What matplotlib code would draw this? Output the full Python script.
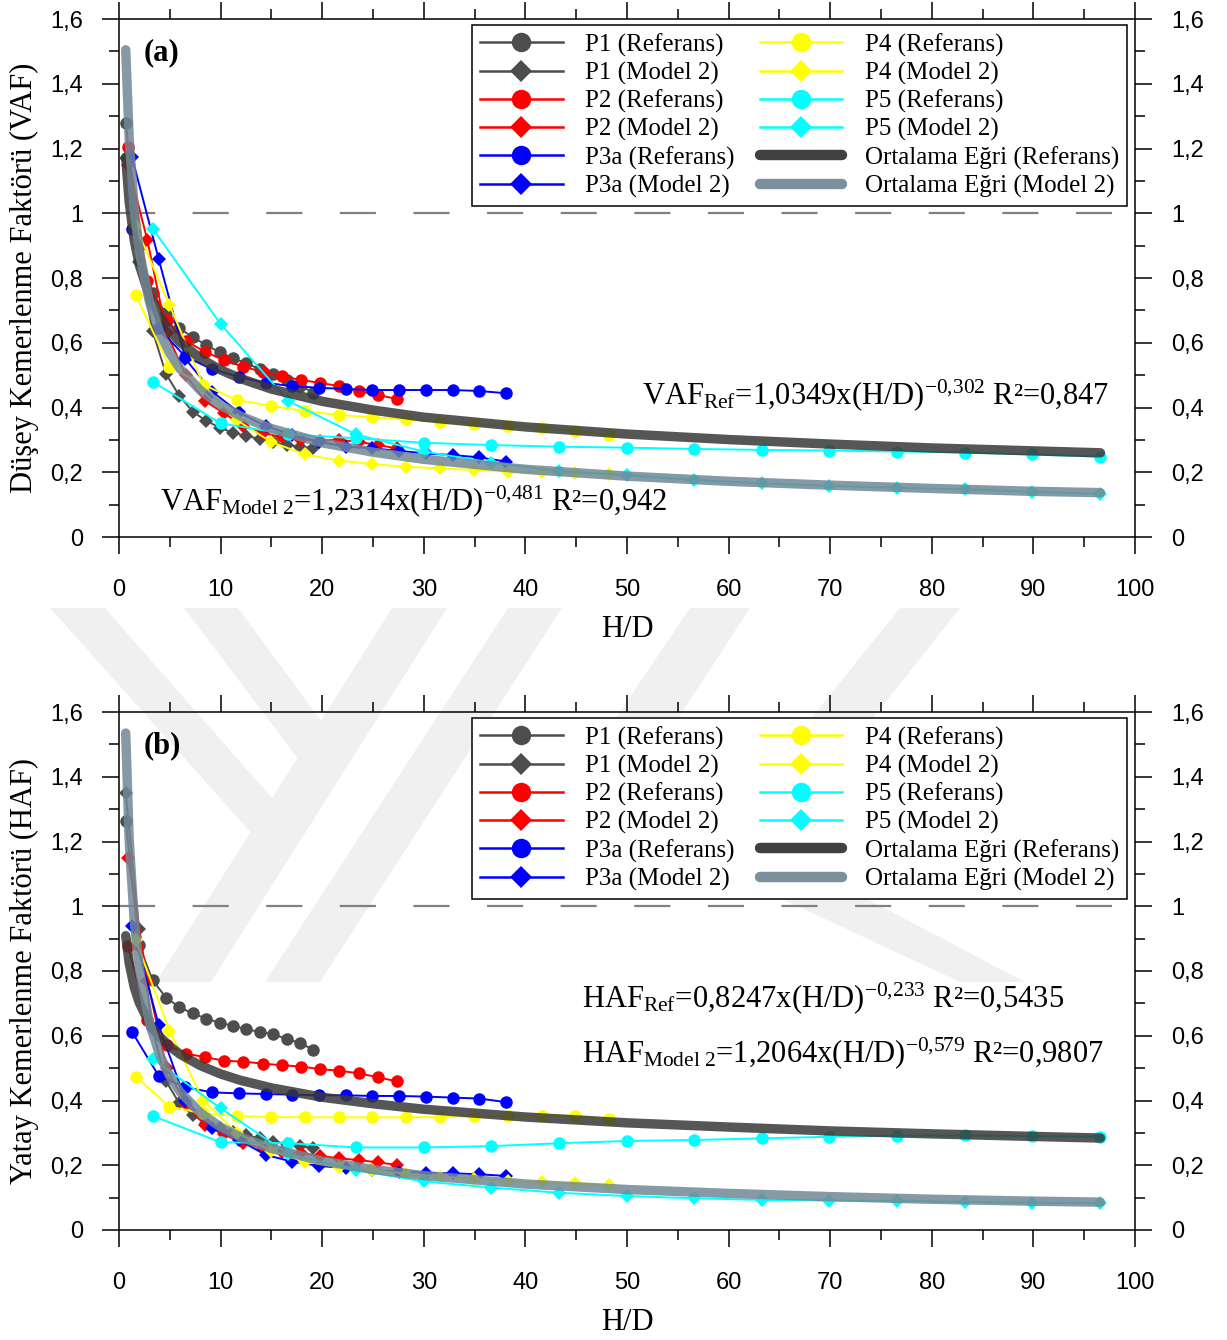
import matplotlib
matplotlib.use("Agg")
import matplotlib.pyplot as plt
from matplotlib.lines import Line2D
from matplotlib.patches import Polygon

# ---------------- data ----------------
P1_X = [0.66, 1.98, 3.3, 4.62, 5.94, 7.26, 8.58, 9.9, 11.22, 12.54, 13.86, 15.18, 16.5, 17.82, 19.14]
P2_X = [0.9, 2.79, 4.68, 6.57, 8.46, 10.35, 12.24, 14.13, 16.02, 17.91, 19.8, 21.69, 23.58, 25.47, 27.36]
P3A_X = [1.28, 3.91, 6.54, 9.17, 11.8, 14.43, 17.06, 19.69, 22.32, 24.95, 27.58, 30.21, 32.84, 35.47, 38.1]
P4_X = [1.64, 4.97, 8.3, 11.63, 14.96, 18.29, 21.62, 24.95, 28.28, 31.61, 34.94, 38.27, 41.6, 44.93, 48.26]
P5_X = [3.35, 10.0, 16.67, 23.3, 30.0, 36.65, 43.3, 49.96, 56.6, 63.3, 69.9, 76.6, 83.3, 89.9, 96.6]

# (a) VAF
VAF_P1_REF = [1.28, 0.90, 0.754, 0.691, 0.645, 0.617, 0.593, 0.571, 0.552, 0.537, 0.518, 0.503, 0.485, 0.467, 0.446]
VAF_P1_M2 = [1.17, 0.85, 0.637, 0.504, 0.436, 0.387, 0.359, 0.338, 0.322, 0.312, 0.303, 0.292, 0.284, 0.279, 0.274]
VAF_P2_REF = [1.206, 0.79, 0.67, 0.606, 0.572, 0.546, 0.526, 0.51, 0.497, 0.485, 0.476, 0.466, 0.451, 0.439, 0.426]
VAF_P2_M2 = [1.15, 0.917, 0.63, 0.50, 0.42, 0.382, 0.343, 0.322, 0.308, 0.300, 0.298, 0.300, 0.294, 0.284, 0.274]
VAF_P3A_REF = [0.951, 0.645, 0.557, 0.518, 0.495, 0.476, 0.466, 0.461, 0.457, 0.454, 0.454, 0.454, 0.454, 0.451, 0.444]
VAF_P3A_M2 = [1.173, 0.858, 0.55, 0.449, 0.385, 0.343, 0.315, 0.294, 0.279, 0.274, 0.266, 0.258, 0.253, 0.246, 0.233]
VAF_P4_REF = [0.748, 0.526, 0.47, 0.423, 0.405, 0.389, 0.377, 0.370, 0.363, 0.356, 0.349, 0.344, 0.338, 0.327, 0.315]
VAF_P4_M2 = [0.96, 0.717, 0.47, 0.36, 0.294, 0.255, 0.236, 0.225, 0.217, 0.212, 0.207, 0.202, 0.200, 0.197, 0.195]
VAF_P5_REF = [0.479, 0.351, 0.317, 0.305, 0.291, 0.284, 0.279, 0.276, 0.272, 0.269, 0.267, 0.264, 0.261, 0.255, 0.248]
VAF_P5_M2 = [0.951, 0.658, 0.42, 0.317, 0.264, 0.23, 0.204, 0.191, 0.176, 0.166, 0.158, 0.152, 0.147, 0.140, 0.133]

# (b) HAF
HAF_P1_REF = [1.264, 0.88, 0.772, 0.718, 0.688, 0.669, 0.653, 0.64, 0.631, 0.620, 0.612, 0.604, 0.591, 0.577, 0.557]
HAF_P1_M2 = [1.349, 0.929, 0.62, 0.46, 0.391, 0.355, 0.33, 0.315, 0.303, 0.293, 0.283, 0.273, 0.266, 0.260, 0.252]
HAF_P2_REF = [0.877, 0.65, 0.572, 0.545, 0.534, 0.523, 0.52, 0.514, 0.509, 0.505, 0.497, 0.492, 0.484, 0.472, 0.459]
HAF_P2_M2 = [1.15, 0.77, 0.50, 0.39, 0.324, 0.295, 0.268, 0.252, 0.242, 0.237, 0.229, 0.221, 0.216, 0.209, 0.201]
HAF_P3A_REF = [0.612, 0.476, 0.441, 0.425, 0.422, 0.42, 0.418, 0.416, 0.416, 0.414, 0.414, 0.412, 0.409, 0.406, 0.395]
HAF_P3A_M2 = [0.94, 0.633, 0.40, 0.316, 0.278, 0.232, 0.211, 0.198, 0.191, 0.185, 0.18, 0.177, 0.175, 0.172, 0.167]
HAF_P4_REF = [0.474, 0.381, 0.36, 0.352, 0.349, 0.348, 0.348, 0.348, 0.348, 0.349, 0.351, 0.351, 0.353, 0.353, 0.342]
HAF_P4_M2 = [0.896, 0.616, 0.40, 0.30, 0.245, 0.211, 0.196, 0.185, 0.174, 0.165, 0.158, 0.152, 0.147, 0.144, 0.139]
HAF_P5_REF = [0.352, 0.271, 0.268, 0.255, 0.255, 0.259, 0.268, 0.275, 0.278, 0.283, 0.288, 0.291, 0.292, 0.290, 0.288]
HAF_P5_M2 = [0.528, 0.376, 0.235, 0.185, 0.150, 0.131, 0.115, 0.105, 0.098, 0.093, 0.091, 0.090, 0.087, 0.084, 0.083]

# average curves
CURVE_X = [0.66, 1.0, 1.5, 2, 3, 4, 5, 6, 8, 10, 12, 15, 20, 25, 30, 40, 50, 60, 70, 80, 90, 96.6]
VAF_REF_CURVE = [1.173, 1.035, 0.916, 0.840, 0.743, 0.681, 0.637, 0.602, 0.552, 0.516, 0.489, 0.457, 0.419, 0.392, 0.370, 0.340, 0.318, 0.301, 0.287, 0.275, 0.266, 0.260]
VAF_M2_CURVE = [1.505, 1.231, 1.013, 0.882, 0.726, 0.632, 0.568, 0.520, 0.453, 0.407, 0.373, 0.335, 0.291, 0.262, 0.240, 0.209, 0.188, 0.172, 0.160, 0.150, 0.141, 0.137]
HAF_REF_CURVE = [0.909, 0.825, 0.750, 0.702, 0.638, 0.597, 0.567, 0.543, 0.508, 0.482, 0.462, 0.439, 0.410, 0.390, 0.373, 0.349, 0.331, 0.318, 0.306, 0.297, 0.289, 0.284]
HAF_M2_CURVE = [1.535, 1.206, 0.954, 0.808, 0.639, 0.541, 0.475, 0.427, 0.362, 0.318, 0.286, 0.252, 0.213, 0.187, 0.168, 0.142, 0.125, 0.113, 0.103, 0.095, 0.089, 0.086]

LABELS = ["P1 (Referans)", "P1 (Model 2)", "P2 (Referans)", "P2 (Model 2)",
          "P3a (Referans)", "P3a (Model 2)", "P4 (Referans)", "P4 (Model 2)",
          "P5 (Referans)", "P5 (Model 2)", "Ortalama Eğri (Referans)", "Ortalama Eğri (Model 2)"]
Y_TICKS = [0, 0.2, 0.4, 0.6, 0.8, 1.0, 1.2, 1.4, 1.6]
Y_TICKLABELS = ["0", "0,2", "0,4", "0,6", "0,8", "1", "1,2", "1,4", "1,6"]
X_TICKS = [0, 10, 20, 30, 40, 50, 60, 70, 80, 90, 100]

COLORS = ["#4d4d4d", "#4d4d4d", "#ff0000", "#ff0000", "#0000ff", "#0000ff",
          "#ffff00", "#ffff00", "#00ffff", "#00ffff"]
MARKERS = ["o", "D"] * 5
REF_COLOR = "#383838"
M2_COLOR = "#718896"

SERIF = "Liberation Serif"
SANS = "Liberation Sans"
plt.rcParams["mathtext.fontset"] = "custom"
plt.rcParams["mathtext.rm"] = SERIF
plt.rcParams["mathtext.it"] = SERIF + ":italic"
plt.rcParams["mathtext.bf"] = SERIF + ":bold"
plt.rcParams["lines.scale_dashes"] = False

W, H = 1227, 1340
fig = plt.figure(figsize=(W / 100, H / 100), dpi=100)


def frac_box(l, t, r, b):
    return [l / W, 1 - b / H, (r - l) / W, (b - t) / H]


# faint background watermark (figure pixel coords)
WM = [
    [(50, 608), (105, 608), (300, 830), (262, 845)],
    [(184, 608), (238, 608), (350, 760), (318, 785)],
    [(392, 608), (447, 608), (211, 982), (156, 982)],
    [(508, 608), (562, 608), (320, 982), (265, 982)],
    [(690, 608), (750, 608), (560, 900), (520, 860)],
    [(900, 608), (960, 608), (745, 880), (705, 850)],
    [(720, 870), (755, 840), (1025, 982), (960, 982)],
]
for poly in WM:
    pts = [(x / W, 1 - y / H) for x, y in poly]
    fig.patches.append(Polygon(pts, closed=True, transform=fig.transFigure,
                               facecolor="#f0f0f0", edgecolor="none", zorder=-5))

panels = [
    dict(box=frac_box(119, 19, 1135, 537), tag="(a)",
         ylabel="Düşey Kemerlenme Faktörü (VAF)",
         series=[VAF_P1_REF, VAF_P1_M2, VAF_P2_REF, VAF_P2_M2, VAF_P3A_REF, VAF_P3A_M2,
                 VAF_P4_REF, VAF_P4_M2, VAF_P5_REF, VAF_P5_M2],
         curves=(VAF_REF_CURVE, VAF_M2_CURVE),
         eqs=[(0.975, 0.257, r"VAF$_{\mathrm{Ref}}$=1,0349x(H/D)$^{\mathrm{-0{,}302}}$ R²=0,847", "right"),
              (0.040, 0.052, r"VAF$_{\mathrm{Model\ 2}}$=1,2314x(H/D)$^{\mathrm{-0{,}481}}$ R²=0,942", "left")]),
    dict(box=frac_box(119, 712, 1135, 1230), tag="(b)",
         ylabel="Yatay Kemerlenme Faktörü (HAF)",
         series=[HAF_P1_REF, HAF_P1_M2, HAF_P2_REF, HAF_P2_M2, HAF_P3A_REF, HAF_P3A_M2,
                 HAF_P4_REF, HAF_P4_M2, HAF_P5_REF, HAF_P5_M2],
         curves=(HAF_REF_CURVE, HAF_M2_CURVE),
         eqs=[(0.456, 0.43, r"HAF$_{\mathrm{Ref}}$=0,8247x(H/D)$^{\mathrm{-0{,}233}}$ R²=0,5435", "left"),
              (0.456, 0.324, r"HAF$_{\mathrm{Model\ 2}}$=1,2064x(H/D)$^{\mathrm{-0{,}579}}$ R²=0,9807", "left")]),
]

XS = [P1_X, P1_X, P2_X, P2_X, P3A_X, P3A_X, P4_X, P4_X, P5_X, P5_X]

for p in panels:
    ax = fig.add_axes(p["box"])
    ax.set_zorder(1)
    ax.set_facecolor("none")
    ax.axhline(1.0, color="#808080", lw=1.6, linestyle=(0, (26, 27)), zorder=1)
    for xs, ys, c, m in zip(XS, p["series"], COLORS, MARKERS):
        ax.plot(xs, ys, color=c, lw=1.4, marker=m, ms=9 if m == "o" else 7.5,
                markeredgewidth=0, zorder=3)
    ax.plot(CURVE_X, p["curves"][0], color=REF_COLOR, lw=6.8, alpha=0.85,
            solid_capstyle="round", zorder=4)
    ax.plot(CURVE_X, p["curves"][1], color=M2_COLOR, lw=6.8, alpha=0.85,
            solid_capstyle="round", zorder=5)

    ax.set_xlim(0, 100)
    ax.set_ylim(0, 1.6)
    ax.set_xticks(X_TICKS)
    ax.set_xticks(list(range(5, 100, 10)), minor=True)
    ax.set_yticks(Y_TICKS)
    ax.set_yticklabels(Y_TICKLABELS)
    ax.set_yticks([0.1, 0.3, 0.5, 0.7, 0.9, 1.1, 1.3, 1.5], minor=True)
    ax.tick_params(which="both", direction="out", top=True, right=True,
                   labelright=True, labelsize=17, width=1.1)
    ax.tick_params(which="major", length=12)
    ax.tick_params(which="minor", length=7)
    ax.tick_params(axis="x", which="major", pad=18)
    ax.tick_params(axis="y", which="major", pad=14)
    for lab in ax.get_xticklabels() + ax.get_yticklabels():
        lab.set_fontfamily(SANS)
    for lab in ax.yaxis.get_ticklabels(which="both"):
        lab.set_fontfamily(SANS)
    for s in ax.spines.values():
        s.set_linewidth(1.1)
    ax.set_xlabel("H/D", fontfamily=SERIF, fontsize=22, labelpad=10)
    ax.set_ylabel(p["ylabel"], fontfamily=SERIF, fontsize=22, labelpad=8)

    ax.text(0.024, 0.935, p["tag"], transform=ax.transAxes, fontfamily=SERIF,
            fontweight="bold", fontsize=22, ha="left", va="center")
    for (ex, ey, txt, ha) in p["eqs"]:
        ax.text(ex, ey, txt, transform=ax.transAxes, fontfamily=SERIF,
                fontsize=22, ha=ha, va="baseline", zorder=8)

    handles = []
    for c, m in zip(COLORS, MARKERS):
        handles.append(Line2D([], [], color=c, lw=1.8, marker=m,
                              ms=14 if m == "o" else 11.5, markeredgewidth=0))
    handles.append(Line2D([], [], color="#404040", lw=7.5, solid_capstyle="round"))
    handles.append(Line2D([], [], color="#7a909c", lw=7.5, solid_capstyle="round"))
    leg = ax.legend(handles, LABELS, ncol=2, loc="upper right",
                    bbox_to_anchor=(0.992, 0.988), borderaxespad=0,
                    prop={"family": SERIF, "size": 18}, frameon=True,
                    fancybox=False, edgecolor="black", framealpha=1,
                    handlelength=3.3, handletextpad=0.9, labelspacing=0.2,
                    columnspacing=1.0, borderpad=0.32)
    leg.get_frame().set_linewidth(1.1)
    leg.set_zorder(10)

fig.savefig("out.png", dpi=100)
